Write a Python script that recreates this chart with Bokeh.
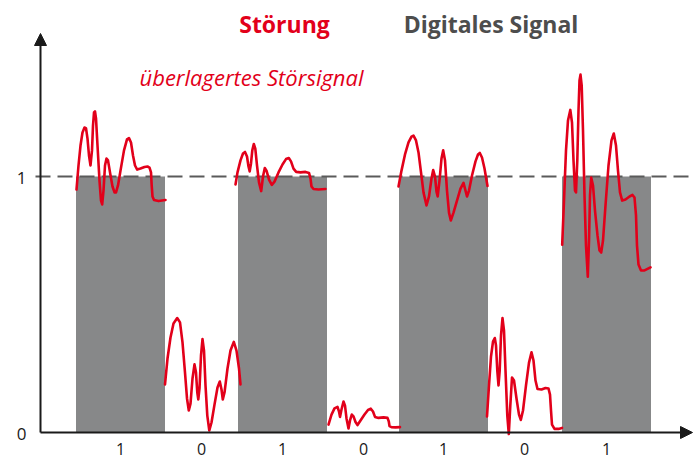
from bokeh.plotting import figure
from bokeh.models import Range1d, Arrow, NormalHead
from bokeh.core.properties import value
from bokeh.embed import file_html
from bokeh.resources import INLINE

# ---------------- data ----------------
bits = [1, 0, 1, 0, 1, 0, 1]
bit_labels = ["1", "0", "1", "0", "1", "0", "1"]
slot_t = [80, 161, 242, 323, 403, 484, 566]      # time position of each bit slot
bar_width = 89
y_ticks = [0, 1]
y_tick_labels = ["0", "1"]

# noisy received signal, one list pair per bit slot (time, amplitude)
seg1_t = [36, 38, 40, 42, 44, 45.5, 47, 48.5, 50, 51.5, 52.5, 53.5, 54.5, 55.5, 57, 59, 60.5, 61.7, 63, 64.5,
          66, 67.5, 69.5, 72, 74, 75.5, 77.5, 80, 83.5, 86.5, 88.5, 90.5, 92.5, 94.5, 96.7, 100, 104, 107, 109,
          110.5, 111.2, 112, 113.5, 118, 125]
seg1_v = [0.949, 1.043, 1.121, 1.172, 1.191, 1.189, 1.148, 1.082, 1.043, 1.102, 1.199, 1.25, 1.254, 1.227,
          1.121, 0.984, 0.906, 0.891, 0.945, 1.043, 1.070, 1.063, 1.016, 0.961, 0.938, 0.938, 0.965, 1.023,
          1.102, 1.145, 1.150, 1.133, 1.082, 1.043, 1.027, 1.031, 1.037, 1.039, 1.035, 1.016, 0.965, 0.922,
          0.908, 0.904, 0.908]

seg2_t = [124.5, 127, 130, 133, 136.7, 139.5, 142, 144.5, 146.5, 148.3, 150, 152, 154, 155.5, 156.8, 157.8,
          159, 160.5, 162, 163.5, 165, 166.8, 168.8, 171, 174, 177, 179.3, 181, 182.3, 184, 187, 190, 193.3,
          196, 198.5, 200]
seg2_v = [0.188, 0.289, 0.371, 0.426, 0.447, 0.430, 0.352, 0.234, 0.133, 0.086, 0.113, 0.211, 0.266, 0.234,
          0.156, 0.129, 0.172, 0.301, 0.365, 0.320, 0.184, 0.066, 0.008, 0.039, 0.109, 0.176, 0.199, 0.168,
          0.129, 0.156, 0.25, 0.320, 0.354, 0.320, 0.25, 0.188]

seg3_t = [195, 197, 200, 202.5, 204.5, 206.5, 208, 209.2, 210.5, 211.8, 213.3, 214.8, 216.5, 218.5, 220.7,
          222.5, 224.3, 226, 228.5, 231.3, 234, 238, 242, 245.5, 248.3, 250.5, 253, 255.7, 260, 265, 268.5,
          270, 271, 273, 278, 285]
seg3_v = [0.969, 1.016, 1.063, 1.090, 1.096, 1.078, 1.039, 1.020, 1.051, 1.102, 1.127, 1.109, 1.043, 0.977,
          0.943, 1.0, 1.033, 1.023, 0.988, 0.967, 0.980, 1.016, 1.047, 1.068, 1.072, 1.059, 1.031, 1.018,
          1.016, 1.018, 1.014, 0.992, 0.961, 0.951, 0.949, 0.951]

seg4_t = [288, 291, 294, 297, 298.5, 299.5, 301, 303, 304.5, 306, 308, 309.5, 311.3, 313, 315, 317, 320, 324,
          327.5, 330.3, 332.5, 334.5, 338, 343, 347, 348.3, 349, 351, 355, 359.5]
seg4_v = [0.031, 0.070, 0.094, 0.100, 0.082, 0.061, 0.090, 0.121, 0.105, 0.055, 0.016, 0.047, 0.070, 0.063,
          0.041, 0.029, 0.047, 0.070, 0.088, 0.093, 0.082, 0.061, 0.057, 0.059, 0.057, 0.043, 0.025, 0.021,
          0.020, 0.021]

seg5_t = [358, 361, 364.5, 368, 371, 373, 375.5, 378, 380.5, 383, 386, 388.5, 391, 392.7, 394.5, 396, 397.2,
          399, 401, 402.7, 404.5, 406.5, 408.5, 410.3, 413, 416.5, 420, 423, 425, 426.5, 428.5, 431.5, 435,
          437.5, 439.3, 441.5, 444, 447]
seg5_v = [0.961, 1.023, 1.086, 1.133, 1.156, 1.160, 1.141, 1.094, 1.016, 0.938, 0.887, 0.922, 0.992, 1.025,
          1.0, 0.941, 0.922, 0.984, 1.070, 1.102, 1.063, 0.945, 0.859, 0.828, 0.859, 0.906, 0.953, 0.975,
          0.945, 0.922, 0.945, 1.004, 1.059, 1.086, 1.092, 1.074, 1.031, 0.963]

seg6_t = [446.5, 448.5, 450.5, 452.5, 454.3, 455.5, 456.8, 458, 459.2, 460.5, 462, 463.5, 465, 466.8, 468.3,
          469.8, 471.5, 473.5, 476, 478.5, 480.3, 482.5, 485.5, 488.5, 491, 493, 495, 497, 501, 505, 508,
          509.5, 510.5, 511.5, 514, 518, 521.5]
seg6_v = [0.063, 0.184, 0.297, 0.355, 0.369, 0.340, 0.242, 0.184, 0.242, 0.379, 0.447, 0.398, 0.242, 0.066,
          -0.006, 0.105, 0.215, 0.203, 0.133, 0.070, 0.049, 0.086, 0.184, 0.273, 0.313, 0.281, 0.203, 0.170,
          0.168, 0.174, 0.172, 0.148, 0.086, 0.031, 0.014, 0.014, 0.018]

seg7_t = [521.7, 523.5, 525.5, 527.5, 529.8, 531.5, 533, 534.5, 535.5, 536.8, 538, 539, 540, 541.2, 542.5,
          544, 545.5, 547.3, 548.5, 549.5, 550.7, 552.5, 554.5, 557, 559, 560.7, 562.5, 565, 568, 571, 573.3,
          575.5, 577.5, 579.5, 581.7, 585, 589, 592, 594, 595.5, 596.5, 598, 600.5, 604, 607, 610]
seg7_v = [0.734, 0.906, 1.102, 1.219, 1.260, 1.211, 1.063, 0.945, 0.938, 1.063, 1.258, 1.375, 1.398, 1.355,
          1.180, 0.926, 0.730, 0.609, 0.75, 0.926, 0.996, 0.965, 0.867, 0.770, 0.711, 0.703, 0.75, 0.887,
          1.043, 1.141, 1.168, 1.121, 1.023, 0.938, 0.906, 0.910, 0.922, 0.928, 0.918, 0.848, 0.730, 0.656,
          0.633, 0.633, 0.639, 0.645]

noise_t = [seg1_t, seg2_t, seg3_t, seg4_t, seg5_t, seg6_t, seg7_t]
noise_v = [seg1_v, seg2_v, seg3_v, seg4_v, seg5_v, seg6_v, seg7_v]

# ---------------- styles ----------------
RED = "#e2001a"
BAR = "#878889"
DARK = "#1a1a1a"
GREY_TXT = "#4d4d4d"
FONT = "Open Sans"

p = figure(width=695, height=459, output_backend="svg", toolbar_location=None,
           x_axis_location=None, y_axis_location=None, min_border=0,
           x_range=Range1d(-40, 655), y_range=Range1d(-27 / 256, 432 / 256))
p.grid.visible = False
p.outline_line_color = None
p.background_fill_color = "white"

# digital signal bars
bar_x = [t for t, b in zip(slot_t, bits) if b == 1]
bar_top = [b for b in bits if b == 1]
p.vbar(x=bar_x, top=bar_top, bottom=0, width=bar_width, fill_color=BAR, line_color=None)

# threshold dashed line at level 1
p.line(x=[-5, 655], y=[1, 1], line_color="#5a5a5a", line_width=2, line_dash="15 7")

# axes with arrow heads
p.add_layout(Arrow(end=NormalHead(size=12, fill_color=DARK, line_color=DARK),
                   x_start=0, y_start=0, x_end=0, y_end=399 / 256,
                   line_color=DARK, line_width=2))
p.add_layout(Arrow(end=NormalHead(size=12, fill_color=DARK, line_color=DARK),
                   x_start=0, y_start=0, x_end=652, y_end=0,
                   line_color=DARK, line_width=2))

# noisy signal
p.multi_line(xs=noise_t, ys=noise_v, line_color=RED, line_width=2.6, line_join="round", line_cap="round")

# tick labels
p.text(x=slot_t, y=[-0.066] * len(slot_t), text=bit_labels, text_font=value(FONT), text_font_size="16px",
       text_color=DARK, text_align="center", text_baseline="middle")
p.text(x=[-19] * len(y_ticks), y=[v - 0.006 for v in y_ticks], text=y_tick_labels, text_font=value(FONT),
       text_font_size="17px", text_color=DARK, text_align="center", text_baseline="middle")

# titles
p.text(x=[244], y=[1.594], text=["Störung"], text_font=value(FONT), text_font_size="23px",
       text_font_style="bold", text_color=RED, text_align="center", text_baseline="middle")
p.text(x=[450.5], y=[1.594], text=["Digitales Signal"], text_font=value(FONT), text_font_size="23px",
       text_font_style="bold", text_color=GREY_TXT, text_align="center", text_baseline="middle")
p.text(x=[99], y=[1.389], text=["überlagertes Störsignal"], text_font=value(FONT), text_font_size="22px",
       text_font_style="italic", text_color=RED, text_align="left", text_baseline="middle")

open("out.html", "w").write(file_html(p, INLINE))
